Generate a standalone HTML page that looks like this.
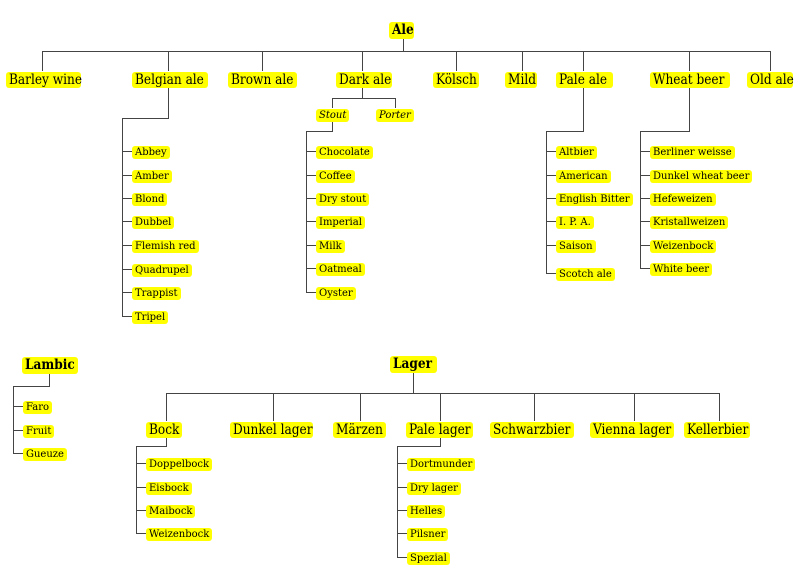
<!DOCTYPE html>
<html><head><meta charset="utf-8"><style>
body{margin:0;width:800px;height:581px;background:#fff;position:relative;overflow:hidden;font-family:"DejaVu Serif","Liberation Serif",serif;}
.b{position:absolute;background:#ffff00;border-radius:3px;white-space:nowrap;color:#000;box-sizing:border-box;margin-top:1px;}
.L{font-family:"DejaVu Serif Condensed","DejaVu Serif",serif;font-stretch:condensed;font-size:13.5px;height:16px;line-height:16px;padding:0 3px;overflow:visible;}
.S{font-size:10px;height:13px;line-height:13px;padding:0 3px;}
.bold{font-weight:bold;}
.it{font-style:italic;}
svg{position:absolute;left:0;top:0;}
</style></head><body>
<svg width="800" height="581" stroke="#444" stroke-width="1" fill="none" shape-rendering="crispEdges">
<path d="M403.5 38V51.5M42.5 51.5H770.5M42.5 51V71M168.5 51V71M262.5 51V71M362.5 51V71M456.5 51V71M522.5 51V71M583.5 51V71M689.5 51V71M770.5 51V71"/>
<path d="M168.5 87V118.5H122.5V316.5M122 151.5H132M122 175.5H132M122 198.5H132M122 221.5H132M122 245.5H132M122 269.5H132M122 292.5H132M122 316.5H132"/>
<path d="M362.5 87V98.5M332.5 98.5H395.5M332.5 98V108M395.5 98V108M332.5 122V131.5H306.5V292.5M306 151.5H316M306 175.5H316M306 198.5H316M306 221.5H316M306 245.5H316M306 268.5H316M306 292.5H316"/>
<path d="M583.5 87V131.5H546.5V273.5M546 151.5H556M546 175.5H556M546 198.5H556M546 221.5H556M546 245.5H556M546 273.5H556"/>
<path d="M689.5 87V131.5H640.5V268.5M640 151.5H650M640 175.5H650M640 198.5H650M640 221.5H650M640 245.5H650M640 268.5H650"/>
<path d="M49.5 373V386.5H13.5V453.5M13 406.5H23M13 430.5H23M13 453.5H23"/>
<path d="M413.5 372V393.5M166.5 393.5H719.5M166.5 393V421M273.5 393V421M360.5 393V421M440.5 393V421M534.5 393V421M634.5 393V421M719.5 393V421"/>
<path d="M166.5 437V446.5H136.5V533.5M136 463.5H146M136 487.5H146M136 510.5H146M136 533.5H146"/>
<path d="M440.5 437V446.5H397.5V557.5M397 463.5H407M397 487.5H407M397 510.5H407M397 533.5H407M397 557.5H407"/>
</svg>

<div class="b L bold" style="left:389px;top:21px;width:25px;height:17px;line-height:17px">Ale</div>
<div class="b L" style="left:6px;top:71px;width:75px">Barley wine</div>
<div class="b L" style="left:132px;top:71px;width:76px">Belgian ale</div>
<div class="b L" style="left:228px;top:71px;width:69px">Brown ale</div>
<div class="b L" style="left:336px;top:71px;width:56px">Dark ale</div>
<div class="b L" style="left:433px;top:71px;width:46px">Kölsch</div>
<div class="b L" style="left:505px;top:71px;width:32px">Mild</div>
<div class="b L" style="left:556px;top:71px;width:57px">Pale ale</div>
<div class="b L" style="left:650px;top:71px;width:80px">Wheat beer</div>
<div class="b L" style="left:747px;top:71px;width:46px">Old ale</div>

<div class="b S it" style="left:316px;top:108px">Stout</div>
<div class="b S it" style="left:376px;top:108px">Porter</div>

<div class="b S" style="left:132px;top:145px">Abbey</div>
<div class="b S" style="left:132px;top:169px">Amber</div>
<div class="b S" style="left:132px;top:192px">Blond</div>
<div class="b S" style="left:132px;top:215px">Dubbel</div>
<div class="b S" style="left:132px;top:239px">Flemish red</div>
<div class="b S" style="left:132px;top:263px">Quadrupel</div>
<div class="b S" style="left:132px;top:286px">Trappist</div>
<div class="b S" style="left:132px;top:310px">Tripel</div>

<div class="b S" style="left:316px;top:145px">Chocolate</div>
<div class="b S" style="left:316px;top:169px">Coffee</div>
<div class="b S" style="left:316px;top:192px">Dry stout</div>
<div class="b S" style="left:316px;top:215px">Imperial</div>
<div class="b S" style="left:316px;top:239px">Milk</div>
<div class="b S" style="left:316px;top:262px">Oatmeal</div>
<div class="b S" style="left:316px;top:286px">Oyster</div>

<div class="b S" style="left:556px;top:145px">Altbier</div>
<div class="b S" style="left:556px;top:169px">American</div>
<div class="b S" style="left:556px;top:192px">English Bitter</div>
<div class="b S" style="left:556px;top:215px">I. P. A.</div>
<div class="b S" style="left:556px;top:239px">Saison</div>
<div class="b S" style="left:556px;top:267px">Scotch ale</div>

<div class="b S" style="left:650px;top:145px">Berliner weisse</div>
<div class="b S" style="left:650px;top:169px">Dunkel wheat beer</div>
<div class="b S" style="left:650px;top:192px">Hefeweizen</div>
<div class="b S" style="left:650px;top:215px">Kristallweizen</div>
<div class="b S" style="left:650px;top:239px">Weizenbock</div>
<div class="b S" style="left:650px;top:262px">White beer</div>

<div class="b L bold" style="left:22px;top:356px;width:56px;height:17px;line-height:17px">Lambic</div>
<div class="b S" style="left:23px;top:400px">Faro</div>
<div class="b S" style="left:23px;top:424px">Fruit</div>
<div class="b S" style="left:23px;top:447px">Gueuze</div>

<div class="b L bold" style="left:390px;top:355px;width:47px;height:17px;line-height:17px">Lager</div>
<div class="b L" style="left:146px;top:421px;width:36px">Bock</div>
<div class="b L" style="left:230px;top:421px;width:83px">Dunkel lager</div>
<div class="b L" style="left:333px;top:421px;width:53px">Märzen</div>
<div class="b L" style="left:406px;top:421px;width:67px">Pale lager</div>
<div class="b L" style="left:490px;top:421px;width:84px">Schwarzbier</div>
<div class="b L" style="left:590px;top:421px;width:84px">Vienna lager</div>
<div class="b L" style="left:684px;top:421px;width:66px">Kellerbier</div>

<div class="b S" style="left:146px;top:457px">Doppelbock</div>
<div class="b S" style="left:146px;top:481px">Eisbock</div>
<div class="b S" style="left:146px;top:504px">Maibock</div>
<div class="b S" style="left:146px;top:527px">Weizenbock</div>

<div class="b S" style="left:407px;top:457px">Dortmunder</div>
<div class="b S" style="left:407px;top:481px">Dry lager</div>
<div class="b S" style="left:407px;top:504px">Helles</div>
<div class="b S" style="left:407px;top:527px">Pilsner</div>
<div class="b S" style="left:407px;top:551px">Spezial</div>
</body></html>
